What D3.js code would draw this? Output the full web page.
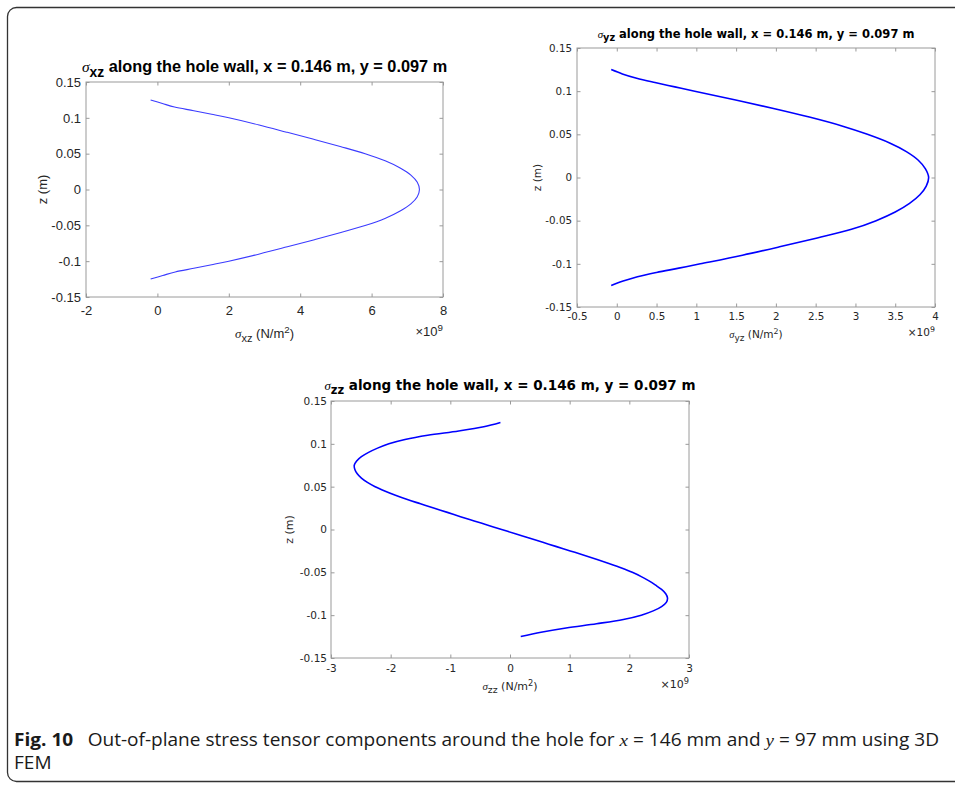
<!DOCTYPE html>
<html><head><meta charset="utf-8">
<script src="https://cdn.jsdelivr.net/npm/d3@7"></script>
<style>body{margin:0;background:#fff;} svg{display:block}</style>
</head><body><svg id="c" width="955" height="785"></svg>
<script>
// ---------- data ----------
const zTicks = [-0.15, -0.1, -0.05, 0, 0.05, 0.1, 0.15];
const zTickLabels = ["-0.15", "-0.1", "-0.05", "0", "0.05", "0.1", "0.15"];
const xzTicks = [-2, 0, 2, 4, 6, 8];
const yzTicks = [-0.5, 0, 0.5, 1, 1.5, 2, 2.5, 3, 3.5, 4];
const zzTicks = [-3, -2, -1, 0, 1, 2, 3];

// sigma_xz (x 1e9 N/m^2) along z (m)
const zXZ = [0.125, 0.12, 0.115, 0.11, 0.105, 0.1, 0.09, 0.08, 0.07, 0.06, 0.05, 0.04, 0.03, 0.02, 0.01, 0,
  -0.01, -0.02, -0.03, -0.04, -0.05, -0.06, -0.07, -0.08, -0.09, -0.1, -0.105, -0.11, -0.115, -0.12, -0.125];
const sigmaXZ = [-0.19, 0.14, 0.48, 1.02, 1.52, 2.0, 2.85, 3.62, 4.38, 5.12, 5.82, 6.38, 6.8, 7.1, 7.28, 7.34,
  7.28, 7.1, 6.8, 6.39, 5.84, 5.14, 4.4, 3.64, 2.86, 2.0, 1.52, 1.02, 0.5, 0.15, -0.19];

// sigma_yz
const zYZ = [0.125, 0.12, 0.115, 0.11, 0.105, 0.1, 0.09, 0.08, 0.07, 0.06, 0.05, 0.04, 0.03, 0.02, 0.01, 0,
  -0.01, -0.02, -0.03, -0.04, -0.05, -0.06, -0.07, -0.08, -0.09, -0.1, -0.105, -0.11, -0.115, -0.12, -0.125];
const sigmaYZ = [-0.07, 0.07, 0.25, 0.48, 0.73, 0.98, 1.48, 1.97, 2.42, 2.82, 3.15, 3.43, 3.64, 3.79, 3.88, 3.92,
  3.89, 3.81, 3.68, 3.5, 3.26, 2.95, 2.52, 2.06, 1.58, 1.05, 0.78, 0.5, 0.26, 0.08, -0.07];

// sigma_zz
const zZZ = [0.125, 0.12, 0.115, 0.11, 0.105, 0.1, 0.095, 0.09, 0.085, 0.08, 0.075, 0.07, 0.065, 0.06, 0.055, 0.05,
  0.045, 0.04, 0.035, 0.03, 0.025, 0.02, 0.015, 0.01, 0.005, 0,
  -0.005, -0.01, -0.015, -0.02, -0.025, -0.03, -0.035, -0.04, -0.045, -0.05, -0.055, -0.06, -0.065, -0.07,
  -0.075, -0.08, -0.085, -0.09, -0.095, -0.1, -0.105, -0.11, -0.115, -0.12, -0.125];
const sigmaZZ = [-0.16, -0.44, -0.86, -1.38, -1.76, -2.03, -2.22, -2.37, -2.49, -2.57, -2.61, -2.6, -2.56, -2.49, -2.39, -2.26,
  -2.1, -1.92, -1.72, -1.5, -1.28, -1.05, -0.83, -0.6, -0.37, -0.14,
  0.09, 0.32, 0.55, 0.78, 1.01, 1.24, 1.46, 1.67, 1.87, 2.05, 2.2, 2.33, 2.44, 2.54,
  2.61, 2.64, 2.62, 2.54, 2.4, 2.2, 1.9, 1.45, 0.94, 0.52, 0.18];

// ---------- drawing ----------
const svg = d3.select("#c");
const axisColor = "#9a9a9a";
const textColor = "#262626";

// figure frame
svg.append("rect").attr("x", 7.5).attr("y", 7.5).attr("width", 1000).attr("height", 774)
  .attr("rx", 9).attr("fill", "none").attr("stroke", "#333").attr("stroke-width", 1.3);

function panel(o) {
  const g = svg.append("g");
  const x = d3.scaleLinear().domain(o.xDomain).range([o.left, o.right]);
  const y = d3.scaleLinear().domain([-0.15, 0.15]).range([o.bottom, o.top]);
  const tl = o.tickLen;
  g.append("rect").attr("x", o.left).attr("y", o.top)
    .attr("width", o.right - o.left).attr("height", o.bottom - o.top)
    .attr("fill", "#fff").attr("stroke", axisColor);

  const fmtX = d => String(d);
  const fmtY = d => zTickLabels[zTicks.indexOf(d)];
  const axB = g.append("g").attr("transform", `translate(0,${o.bottom})`)
    .call(d3.axisBottom(x).tickValues(o.xTicks).tickSize(-tl).tickSizeOuter(0).tickPadding(o.xPad).tickFormat(fmtX));
  const axT = g.append("g").attr("transform", `translate(0,${o.top})`)
    .call(d3.axisTop(x).tickValues(o.xTicks).tickSize(-tl).tickSizeOuter(0).tickFormat(""));
  const axL = g.append("g").attr("transform", `translate(${o.left},0)`)
    .call(d3.axisLeft(y).tickValues(zTicks).tickSize(-tl).tickSizeOuter(0).tickPadding(o.yPad).tickFormat(fmtY));
  const axR = g.append("g").attr("transform", `translate(${o.right},0)`)
    .call(d3.axisRight(y).tickValues(zTicks).tickSize(-tl).tickSizeOuter(0).tickFormat(""));
  [axB, axT, axL, axR].forEach(a => {
    a.select(".domain").remove();
    a.selectAll("line").attr("stroke", axisColor);
    a.selectAll("text").attr("fill", textColor).style("font-family", o.font).style("font-size", o.tickSize + "px");
  });

  const line = d3.line().x((d, i) => x(o.vals[i])).y(d => y(d)).curve(d3.curveCatmullRom.alpha(0.5));
  g.append("path").attr("d", line(o.zs)).attr("fill", "none")
    .attr("stroke", o.lineColor).attr("stroke-width", o.lineWidth).attr("stroke-linejoin", "round");

  // title
  const cx = (o.left + o.right) / 2;
  const t = g.append("text").attr("x", cx).attr("y", o.titleY).attr("text-anchor", "middle")
    .attr("fill", "#000").style("font-family", o.font).style("font-size", o.titleSize + "px");
  t.append("tspan").text("σ").style("font-family", "Liberation Serif").style("font-style", "italic").style("font-size", (o.titleSize * 0.95) + "px");
  t.append("tspan").text(o.sub).attr("dy", o.titleSize * 0.3).style("font-weight", "bold").style("font-size", (o.titleSize * 0.85) + "px");
  t.append("tspan").text(" along the hole wall, x = 0.146 m, y = 0.097 m").attr("dy", -o.titleSize * 0.3).style("font-weight", "bold");

  // x label
  const xl = g.append("text").attr("x", cx).attr("y", o.xLabelY).attr("text-anchor", "middle")
    .attr("fill", textColor).style("font-family", o.font).style("font-size", o.labelSize + "px");
  xl.append("tspan").text("σ").style("font-family", "Liberation Serif").style("font-style", "italic");
  xl.append("tspan").text(o.sub).attr("dy", o.labelSize * 0.3).style("font-size", (o.labelSize * 0.85) + "px");
  xl.append("tspan").text(" (N/m").attr("dy", -o.labelSize * 0.3);
  xl.append("tspan").text("2").attr("dy", -o.labelSize * 0.35).style("font-size", (o.labelSize * 0.75) + "px");
  xl.append("tspan").text(")").attr("dy", o.labelSize * 0.35);

  // exponent
  const ex = g.append("text").attr("x", o.right).attr("y", o.expY).attr("text-anchor", "end")
    .attr("fill", textColor).style("font-family", o.font).style("font-size", o.labelSize + "px");
  ex.append("tspan").text("×10");
  ex.append("tspan").text("9").attr("dy", -o.labelSize * 0.35).style("font-size", (o.labelSize * 0.75) + "px");

  // y label
  g.append("text").attr("transform", `translate(${o.yLabelX},${(o.top + o.bottom) / 2}) rotate(-90)`)
    .attr("text-anchor", "middle").attr("fill", textColor)
    .style("font-family", o.font).style("font-size", o.labelSize + "px").text("z (m)");
}

panel({
  left: 86, right: 443, top: 82, bottom: 297, xDomain: [-2, 8], xTicks: xzTicks,
  zs: zXZ, vals: sigmaXZ, sub: "xz", font: "Liberation Sans", tickSize: 13, titleSize: 16.3,
  labelSize: 13, titleY: 72, xLabelY: 338, expY: 336, yLabelX: 47, xPad: 9, yPad: 5, tickLen: 3.5,
  lineColor: "#3b3bff", lineWidth: 1.1
});
panel({
  left: 577, right: 935, top: 48, bottom: 307, xDomain: [-0.5, 4], xTicks: yzTicks,
  zs: zYZ, vals: sigmaYZ, sub: "yz", font: "DejaVu Sans", tickSize: 10.3, titleSize: 11.5,
  labelSize: 10.5, titleY: 38, xLabelY: 338, expY: 336, yLabelX: 541, xPad: 6, yPad: 5, tickLen: 3.5,
  lineColor: "#0000ff", lineWidth: 1.6
});
panel({
  left: 331, right: 689, top: 401, bottom: 658, xDomain: [-3, 3], xTicks: zzTicks,
  zs: zZZ, vals: sigmaZZ, sub: "zz", font: "DejaVu Sans", tickSize: 10.5, titleSize: 13.5,
  labelSize: 11, titleY: 390, xLabelY: 690, expY: 688, yLabelX: 293, xPad: 6.5, yPad: 4, tickLen: 3.5,
  lineColor: "#0000ff", lineWidth: 1.6
});

// caption
const target = 926;
const cap = svg.append("text").attr("x", 14).attr("y", 746).attr("fill", "#1a1a1a")
  .style("font-family", "Open Sans").style("font-size", "17.5px");
cap.append("tspan").text("Fig. 10").style("font-weight", "bold");
cap.append("tspan").text("\u2002 Out-of-plane stress tensor components around the hole for ");
cap.append("tspan").text("x").style("font-style", "italic").style("font-family", "Liberation Serif");
cap.append("tspan").text(" = 146 mm and ");
cap.append("tspan").text("y").style("font-style", "italic").style("font-family", "Liberation Serif");
cap.append("tspan").text(" = 97 mm using 3D");
const w = cap.node().getComputedTextLength();
const sx = target / w;
cap.attr("transform", `translate(14,0) scale(${sx},1) translate(-14,0)`);
const cap2 = svg.append("text").attr("x", 14).attr("y", 769).attr("fill", "#1a1a1a")
  .style("font-family", "Open Sans").style("font-size", "17.5px").text("FEM");
cap2.attr("transform", `translate(14,0) scale(${sx},1) translate(-14,0)`);
</script>
</body></html>
